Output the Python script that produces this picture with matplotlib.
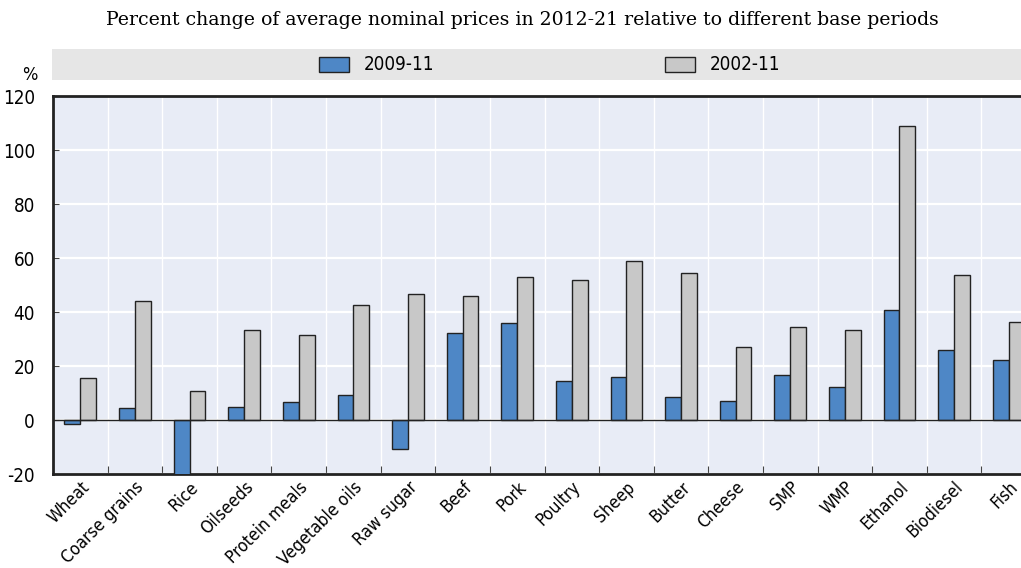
import numpy as np
import matplotlib.pyplot as plt
from matplotlib.patches import Rectangle
from matplotlib import font_manager

plt.rcParams["axes.unicode_minus"] = False

categories = ["Wheat", "Coarse grains", "Rice", "Oilseeds", "Protein meals",
              "Vegetable oils", "Raw sugar", "Beef", "Pork", "Poultry", "Sheep",
              "Butter", "Cheese", "SMP", "WMP", "Ethanol", "Biodiesel", "Fish"]
base_2009_11 = [-1.5, 4.5, -20.5, 5.0, 6.7, 9.4, -10.9, 32.4, 35.9, 14.4, 16.1,
                8.7, 7.1, 16.8, 12.4, 40.6, 25.9, 22.1]
base_2002_11 = [15.4, 44.2, 10.9, 33.3, 31.3, 42.7, 46.8, 46.1, 52.8, 52.0, 58.9,
                54.4, 26.9, 34.4, 33.4, 109.0, 53.6, 36.4]

BLUE = "#4e87c6"
GREY = "#c8c8c8"
EDGE = "#222222"

# look for a narrow sans font, else fall back to Liberation Sans
narrow_file = None
for f in font_manager.fontManager.ttflist:
    fn = f.fname.lower()
    if ("narrow" in fn or "condensed" in fn) and "bold" not in fn and "oblique" not in fn \
            and "italic" not in fn and "serif" not in fn and "mono" not in fn:
        narrow_file = f.fname
        break
if narrow_file:
    def tfont(size):
        return font_manager.FontProperties(fname=narrow_file, size=size)
else:
    def tfont(size):
        return font_manager.FontProperties(family="Liberation Sans", size=size - 1)

W, H = 1021, 568
fig = plt.figure(figsize=(W / 100, H / 100), dpi=100)
ax = fig.add_axes([53 / W, (H - 474) / H, 983 / W, (474 - 96) / H])
ax.set_facecolor("#e8ecf6")

x = np.arange(len(categories))
bw = 0.29
ax.bar(x - bw / 2, base_2009_11, bw, color=BLUE, edgecolor=EDGE, linewidth=1.0, zorder=3)
ax.bar(x + bw / 2, base_2002_11, bw, color=GREY, edgecolor=EDGE, linewidth=1.0, zorder=3)
ax.axhline(0, color=EDGE, linewidth=1.0, zorder=4)

ax.set_xlim(-0.5, len(categories) - 0.5)
ax.set_ylim(-20, 120)
ax.set_yticks(range(-20, 121, 20))
ax.set_xticks(x[:-1] + 0.5, minor=False)
ax.set_xticklabels([])
ax.set_xticks(x, minor=True)
ax.set_xticklabels(categories, minor=True, rotation=45, ha="right",
                   rotation_mode="anchor", fontproperties=tfont(12.5))
ax.tick_params(axis="x", which="major", direction="in", length=6, color="#444444")
ax.tick_params(axis="x", which="minor", length=0, pad=3)
ax.tick_params(axis="y", direction="in", length=4, color="#444444", pad=13)
ax.set_yticklabels([str(v) for v in range(-20, 121, 20)], fontproperties=tfont(13.5))
ax.grid(True, axis="y", which="major", color="white", linewidth=1.6, zorder=0)
ax.grid(True, axis="x", which="major", color="white", linewidth=1.0, zorder=0)
ax.set_axisbelow(True)

for s in ["left", "bottom", "top"]:
    ax.spines[s].set_linewidth(2)
    ax.spines[s].set_color(EDGE)
ax.spines["right"].set_visible(False)

# legend band
fig.patches.append(Rectangle((52 / W, (H - 80) / H), 1 - 52 / W, 31 / H,
                             transform=fig.transFigure, facecolor="#e6e6e6",
                             edgecolor="none", zorder=0))
ypatch = (H - 72) / H
fig.patches.append(Rectangle((319 / W, ypatch), 30 / W, 15 / H, transform=fig.transFigure,
                             facecolor=BLUE, edgecolor=EDGE, linewidth=1))
fig.text(364 / W, (H - 64) / H, "2009-11", va="center", fontproperties=tfont(13.5))
fig.patches.append(Rectangle((665 / W, ypatch), 30 / W, 15 / H, transform=fig.transFigure,
                             facecolor=GREY, edgecolor=EDGE, linewidth=1))
fig.text(710 / W, (H - 64) / H, "2002-11", va="center", fontproperties=tfont(13.5))

fig.text(30 / W, (H - 75) / H, "%", ha="center", va="center", fontproperties=tfont(13))
fig.text(522 / W, (H - 20) / H,
         "Percent change of average nominal prices in 2012-21 relative to different base periods",
         ha="center", va="center", family="DejaVu Serif", fontsize=13.6)

fig.savefig("out.png", dpi=100)
